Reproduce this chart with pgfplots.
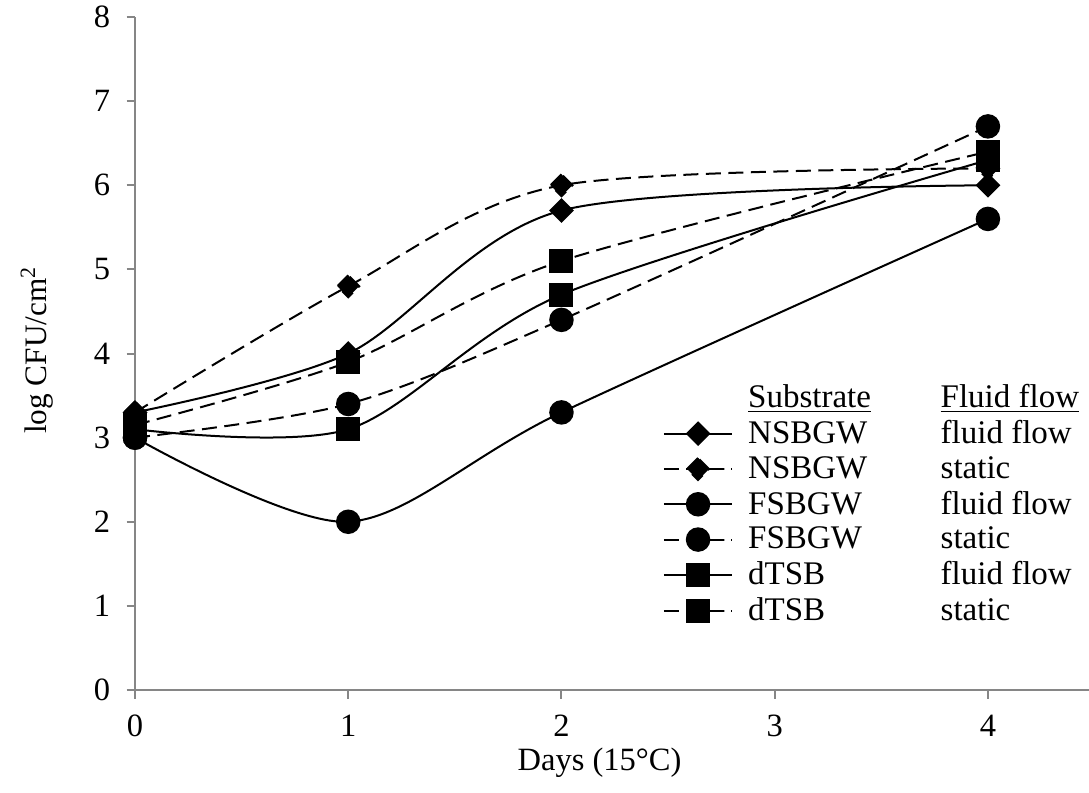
\documentclass[border=0pt]{standalone}
\usepackage{fontspec}
\setmainfont{Liberation Serif}
\usepackage{pgfplots}
\pgfplotsset{compat=1.18}

\definecolor{axgray}{RGB}{134,134,134}

\pgfplotsset{
  lg/.style={line width=0.8pt, black, smooth, tension=0.5,
    mark options={solid, fill=black}},
  dsh/.style={dash pattern=on 6pt off 3pt},
}

\begin{document}
\begin{tikzpicture}
\begin{axis}[
    scale only axis,
    width=381.6pt, height=269.2pt,
    xmin=0, xmax=4.474,
    ymin=0, ymax=8,
    axis lines*=left,
    axis line style={axgray, line width=0.8pt},
    xtick={0,1,2,3,4},
    ytick={0,1,...,8},
    tick align=outside,
    major tick length=3.4pt,
    tick style={axgray, line width=0.8pt},
    font=\fontsize{13}{15}\selectfont,
    ticklabel style={font=\fontsize{13}{15}\selectfont},
    /pgf/number format/assume math mode=true,
    xticklabel style={inner sep=0.5pt, yshift=-6pt},
    yticklabel style={xshift=-3pt},
    xlabel={Days (15°C)},
    ylabel={log CFU/cm\textsuperscript{2}},
    xlabel style={at={(axis description cs:0.487,0)}, anchor=center, inner sep=0pt, yshift=-29pt, font=\fontsize{13}{15}\selectfont},
    ylabel style={at={(axis description cs:-0.103,0.505)}, anchor=center, rotate=0, font=\fontsize{12.5}{15}\selectfont},
    legend cell align=left,
    legend style={at={(axis description cs:0.545,0.47)}, anchor=north west,
      draw=none, fill=none, font=\fontsize{13.2}{15}\selectfont,
      row sep=-0.4pt,
      /tikz/every odd column/.append style={column sep=4pt}},
    legend image code/.code={\draw[mark repeat=2,mark phase=2]
      plot coordinates {(0cm,0cm) (0.48cm,0cm) (0.96cm,0cm)};},
]
\addlegendimage{empty legend}
\addlegendentry{\makebox[77pt][l]{\underline{Substrate}}\underline{Fluid flow}}

\addplot[lg, mark=square*, mark size=3.1pt, mark options={rotate=45}] coordinates {
  (0,3.3) (1,4.0) (2,5.7) (4,6.0)};
\addlegendentry{\makebox[77pt][l]{NSBGW}fluid flow}

\addplot[lg, dsh, mark=square*, mark size=3.1pt, mark options={rotate=45}] coordinates {
  (0,3.3) (1,4.8) (2,6.0) (4,6.2)};
\addlegendentry{\makebox[77pt][l]{NSBGW}static}

\addplot[lg, mark=*, mark size=4.5pt] coordinates {
  (0,3.0) (1,2.0) (2,3.3) (4,5.6)};
\addlegendentry{\makebox[77pt][l]{FSBGW}fluid flow}

\addplot[lg, dsh, mark=*, mark size=4.5pt] coordinates {
  (0,3.0) (1,3.4) (2,4.4) (4,6.7)};
\addlegendentry{\makebox[77pt][l]{FSBGW}static}

\addplot[lg, mark=square*, mark size=4.4pt] coordinates {
  (0,3.1) (1,3.1) (2,4.7) (4,6.3)};
\addlegendentry{\makebox[77pt][l]{dTSB}fluid flow}

\addplot[lg, dsh, mark=square*, mark size=4.4pt] coordinates {
  (0,3.15) (1,3.9) (2,5.1) (4,6.4)};
\addlegendentry{\makebox[77pt][l]{dTSB}static}
\end{axis}
\pgfresetboundingbox
\path (-54pt,-40.8pt) rectangle (381.6pt,276pt);
\end{tikzpicture}
\end{document}
